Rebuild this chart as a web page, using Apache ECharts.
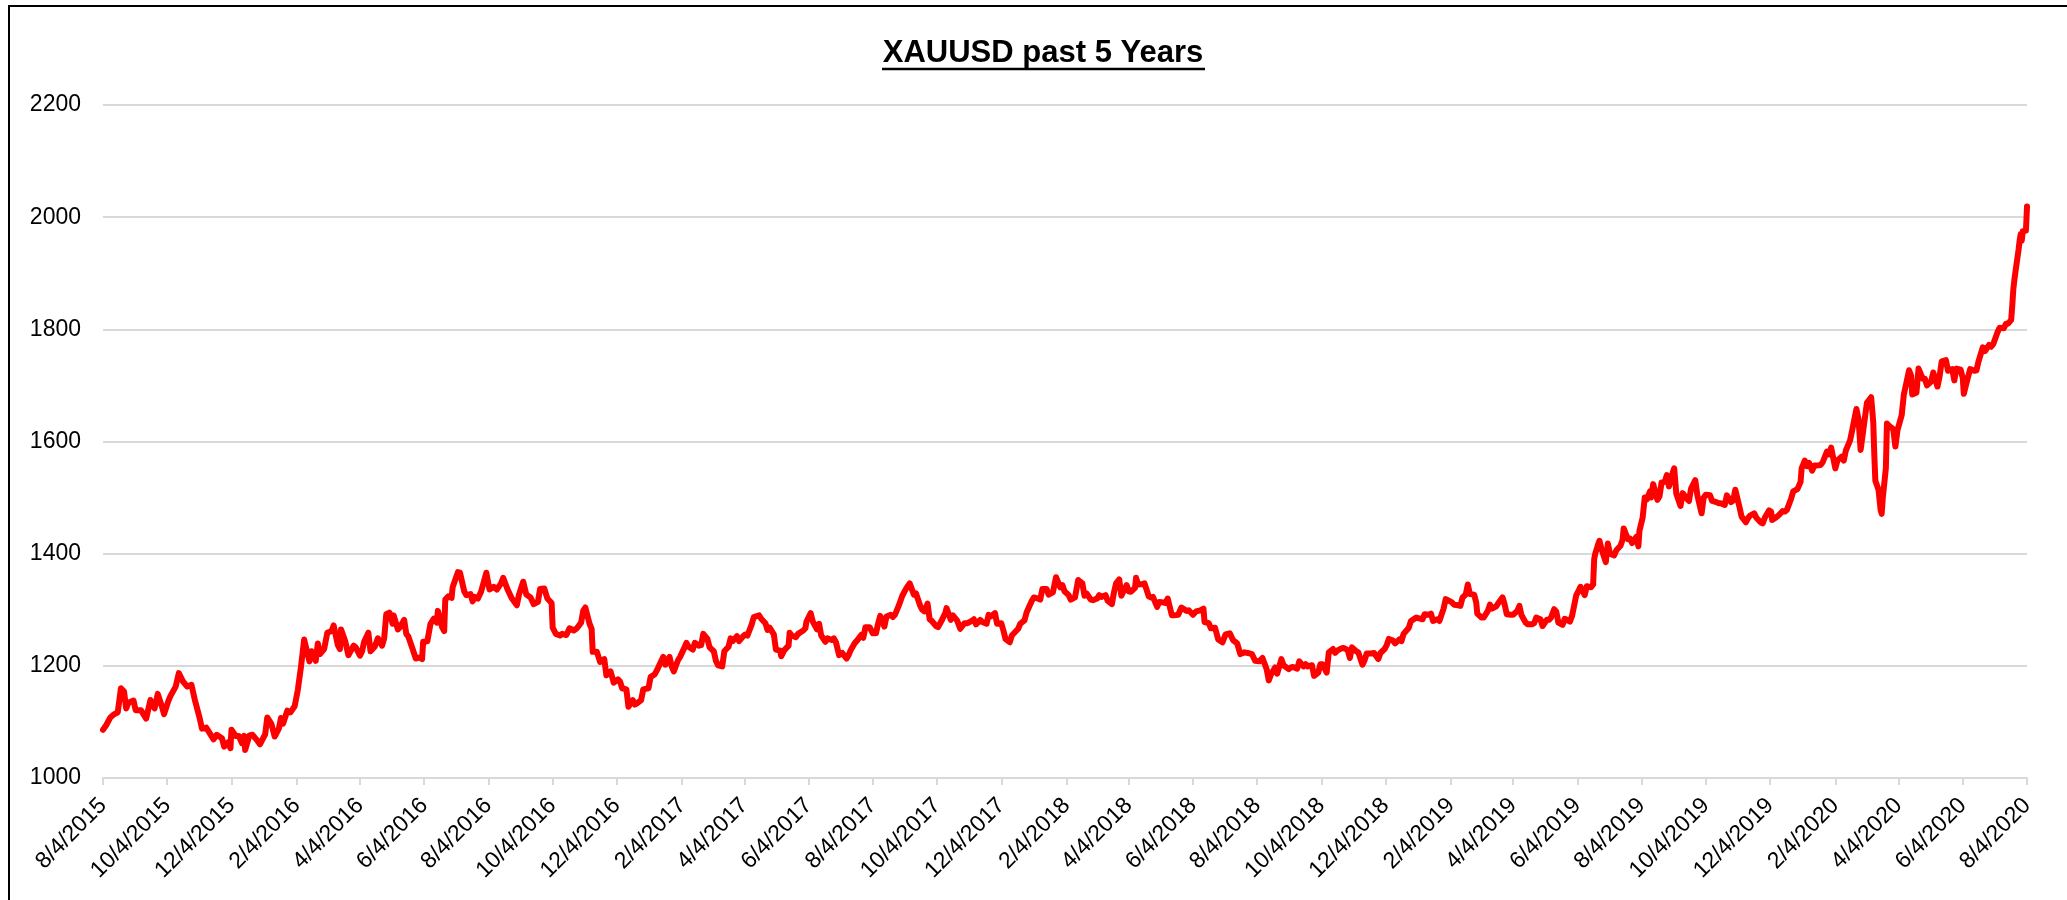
<!DOCTYPE html>
<html>
<head>
<meta charset="utf-8">
<script src="https://cdn.jsdelivr.net/npm/echarts@6/dist/echarts.min.js"></script>
<style>
html,body{margin:0;padding:0;background:#fff;}
#chart{width:2067px;height:900px;}
</style>
</head>
<body>
<div id="chart"></div>
<script>
// ---- data ----
const titleText = 'XAUUSD past 5 Years';
const xMin = '2015-08-04';
const xMax = '2020-08-04';
const yTicks = [1000, 1200, 1400, 1600, 1800, 2000, 2200];
const tickDates = ['2015-08-04','2015-10-04','2015-12-04','2016-02-04','2016-04-04','2016-06-04','2016-08-04','2016-10-04','2016-12-04',
  '2017-02-04','2017-04-04','2017-06-04','2017-08-04','2017-10-04','2017-12-04','2018-02-04','2018-04-04','2018-06-04','2018-08-04',
  '2018-10-04','2018-12-04','2019-02-04','2019-04-04','2019-06-04','2019-08-04','2019-10-04','2019-12-04','2020-02-04','2020-04-04',
  '2020-06-04','2020-08-04'];
const dates = [
'2015-08-04','2015-08-07','2015-08-11','2015-08-14','2015-08-18','2015-08-21','2015-08-24','2015-08-26','2015-08-28','2015-09-02',
'2015-09-04','2015-09-09','2015-09-14','2015-09-18','2015-09-22','2015-09-25','2015-09-29','2015-10-01','2015-10-05','2015-10-07',
'2015-10-12','2015-10-15','2015-10-19','2015-10-23','2015-10-27','2015-10-30','2015-11-04','2015-11-06','2015-11-10','2015-11-13',
'2015-11-17','2015-11-20','2015-11-25','2015-11-27','2015-12-01','2015-12-03','2015-12-04','2015-12-08','2015-12-11','2015-12-14',
'2015-12-16','2015-12-17','2015-12-21','2015-12-24','2015-12-28','2015-12-31','2016-01-05','2016-01-07','2016-01-11','2016-01-14',
'2016-01-18','2016-01-20','2016-01-22','2016-01-26','2016-01-29','2016-02-02','2016-02-05','2016-02-08','2016-02-11','2016-02-12',
'2016-02-16','2016-02-18','2016-02-22','2016-02-24','2016-02-26','2016-03-01','2016-03-04','2016-03-08','2016-03-10','2016-03-14',
'2016-03-16','2016-03-17','2016-03-21','2016-03-24','2016-03-29','2016-03-31','2016-04-04','2016-04-06','2016-04-08','2016-04-12',
'2016-04-14','2016-04-18','2016-04-21','2016-04-25','2016-04-27','2016-04-29','2016-05-02','2016-05-05','2016-05-06','2016-05-10',
'2016-05-12','2016-05-16','2016-05-18','2016-05-20','2016-05-24','2016-05-27','2016-05-31','2016-06-02','2016-06-03','2016-06-07',
'2016-06-10','2016-06-13','2016-06-16','2016-06-17','2016-06-21','2016-06-23','2016-06-24','2016-06-27','2016-06-30','2016-07-01',
'2016-07-06','2016-07-08','2016-07-12','2016-07-14','2016-07-18','2016-07-20','2016-07-22','2016-07-25','2016-07-28','2016-08-02',
'2016-08-05','2016-08-09','2016-08-12','2016-08-16','2016-08-18','2016-08-22','2016-08-26','2016-08-31','2016-09-02','2016-09-06',
'2016-09-09','2016-09-13','2016-09-16','2016-09-20','2016-09-22','2016-09-26','2016-09-29','2016-10-03','2016-10-04','2016-10-07',
'2016-10-11','2016-10-13','2016-10-17','2016-10-20','2016-10-24','2016-10-27','2016-10-31','2016-11-02','2016-11-04','2016-11-08',
'2016-11-10','2016-11-11','2016-11-15','2016-11-18','2016-11-22','2016-11-24','2016-11-28','2016-12-01','2016-12-05','2016-12-07',
'2016-12-09','2016-12-13','2016-12-15','2016-12-19','2016-12-21','2016-12-23','2016-12-27','2016-12-29','2017-01-03','2017-01-05',
'2017-01-09','2017-01-12','2017-01-17','2017-01-19','2017-01-23','2017-01-25','2017-01-27','2017-01-31','2017-02-02','2017-02-06',
'2017-02-08','2017-02-10','2017-02-14','2017-02-16','2017-02-20','2017-02-22','2017-02-24','2017-02-28','2017-03-02','2017-03-06',
'2017-03-08','2017-03-10','2017-03-14','2017-03-16','2017-03-20','2017-03-22','2017-03-24','2017-03-28','2017-03-30','2017-04-03',
'2017-04-05','2017-04-07','2017-04-11','2017-04-13','2017-04-18','2017-04-20','2017-04-24','2017-04-26','2017-04-28','2017-05-02',
'2017-05-04','2017-05-08','2017-05-09','2017-05-12','2017-05-16','2017-05-17','2017-05-19','2017-05-23','2017-05-25','2017-05-30',
'2017-06-01','2017-06-02','2017-06-06','2017-06-08','2017-06-12','2017-06-14','2017-06-16','2017-06-20','2017-06-22','2017-06-26',
'2017-06-28','2017-06-30','2017-07-03','2017-07-06','2017-07-10','2017-07-12','2017-07-14','2017-07-18','2017-07-20','2017-07-24',
'2017-07-26','2017-07-28','2017-08-01','2017-08-04','2017-08-07','2017-08-09','2017-08-11','2017-08-15','2017-08-17','2017-08-21',
'2017-08-23','2017-08-25','2017-08-29','2017-09-01','2017-09-05','2017-09-08','2017-09-12','2017-09-14','2017-09-18','2017-09-20',
'2017-09-22','2017-09-25','2017-09-27','2017-09-29','2017-10-03','2017-10-05','2017-10-09','2017-10-12','2017-10-13','2017-10-17',
'2017-10-19','2017-10-23','2017-10-26','2017-10-30','2017-11-02','2017-11-06','2017-11-08','2017-11-10','2017-11-14','2017-11-16',
'2017-11-20','2017-11-22','2017-11-24','2017-11-28','2017-11-30','2017-12-04','2017-12-06','2017-12-08','2017-12-12','2017-12-14',
'2017-12-18','2017-12-20','2017-12-22','2017-12-26','2017-12-28','2018-01-02','2018-01-04','2018-01-08','2018-01-10','2018-01-12',
'2018-01-16','2018-01-18','2018-01-22','2018-01-25','2018-01-29','2018-01-31','2018-02-02','2018-02-06','2018-02-08','2018-02-12',
'2018-02-15','2018-02-19','2018-02-21','2018-02-23','2018-02-27','2018-03-01','2018-03-05','2018-03-07','2018-03-09','2018-03-13',
'2018-03-15','2018-03-19','2018-03-21','2018-03-23','2018-03-26','2018-03-28','2018-04-02','2018-04-04','2018-04-06','2018-04-10',
'2018-04-11','2018-04-13','2018-04-17','2018-04-19','2018-04-23','2018-04-25','2018-04-27','2018-05-01','2018-05-03','2018-05-07',
'2018-05-09','2018-05-11','2018-05-15','2018-05-17','2018-05-21','2018-05-24','2018-05-29','2018-05-31','2018-06-04','2018-06-07',
'2018-06-11','2018-06-14','2018-06-15','2018-06-19','2018-06-21','2018-06-25','2018-06-28','2018-07-02','2018-07-05','2018-07-09',
'2018-07-12','2018-07-16','2018-07-19','2018-07-23','2018-07-26','2018-07-30','2018-08-02','2018-08-06','2018-08-09','2018-08-13',
'2018-08-15','2018-08-17','2018-08-21','2018-08-23','2018-08-27','2018-08-29','2018-09-03','2018-09-05','2018-09-07','2018-09-11',
'2018-09-13','2018-09-17','2018-09-19','2018-09-21','2018-09-25','2018-09-27','2018-10-01','2018-10-03','2018-10-05','2018-10-09',
'2018-10-11','2018-10-15','2018-10-17','2018-10-19','2018-10-23','2018-10-25','2018-10-29','2018-10-31','2018-11-02','2018-11-06',
'2018-11-08','2018-11-12','2018-11-14','2018-11-16','2018-11-20','2018-11-23','2018-11-27','2018-11-29','2018-12-03','2018-12-05',
'2018-12-07','2018-12-11','2018-12-13','2018-12-17','2018-12-19','2018-12-21','2018-12-26','2018-12-28','2019-01-02','2019-01-04',
'2019-01-08','2019-01-10','2019-01-14','2019-01-16','2019-01-18','2019-01-22','2019-01-24','2019-01-28','2019-01-30','2019-02-01',
'2019-02-05','2019-02-07','2019-02-11','2019-02-13','2019-02-15','2019-02-18','2019-02-20','2019-02-22','2019-02-26','2019-02-28',
'2019-03-01','2019-03-05','2019-03-07','2019-03-11','2019-03-13','2019-03-15','2019-03-19','2019-03-21','2019-03-25','2019-03-27',
'2019-03-29','2019-04-02','2019-04-04','2019-04-08','2019-04-10','2019-04-12','2019-04-16','2019-04-18','2019-04-22','2019-04-24',
'2019-04-26','2019-04-30','2019-05-02','2019-05-06','2019-05-08','2019-05-10','2019-05-13','2019-05-15','2019-05-17','2019-05-21',
'2019-05-23','2019-05-28','2019-05-30','2019-06-03','2019-06-05','2019-06-07','2019-06-11','2019-06-13','2019-06-17','2019-06-19',
'2019-06-20','2019-06-21','2019-06-24','2019-06-25','2019-06-27','2019-07-01','2019-07-03','2019-07-05','2019-07-09','2019-07-11',
'2019-07-15','2019-07-17','2019-07-18','2019-07-22','2019-07-24','2019-07-26','2019-07-30','2019-08-01','2019-08-02','2019-08-05',
'2019-08-07','2019-08-09','2019-08-12','2019-08-13','2019-08-15','2019-08-19','2019-08-21','2019-08-23','2019-08-26','2019-08-28',
'2019-08-30','2019-09-03','2019-09-04','2019-09-06','2019-09-10','2019-09-12','2019-09-16','2019-09-18','2019-09-20','2019-09-24',
'2019-09-26','2019-09-30','2019-10-02','2019-10-04','2019-10-08','2019-10-10','2019-10-14','2019-10-16','2019-10-18','2019-10-22',
'2019-10-24','2019-10-28','2019-10-30','2019-11-01','2019-11-05','2019-11-07','2019-11-11','2019-11-13','2019-11-15','2019-11-19',
'2019-11-21','2019-11-25','2019-11-27','2019-11-29','2019-12-03','2019-12-05','2019-12-06','2019-12-10','2019-12-12','2019-12-16',
'2019-12-18','2019-12-20','2019-12-24','2019-12-26','2019-12-30','2020-01-02','2020-01-03','2020-01-06','2020-01-08','2020-01-10',
'2020-01-13','2020-01-15','2020-01-17','2020-01-21','2020-01-23','2020-01-27','2020-01-29','2020-01-31','2020-02-04','2020-02-06',
'2020-02-10','2020-02-12','2020-02-14','2020-02-18','2020-02-20','2020-02-24','2020-02-26','2020-02-28','2020-03-03','2020-03-05',
'2020-03-09','2020-03-11','2020-03-12','2020-03-13','2020-03-16','2020-03-18','2020-03-19','2020-03-20','2020-03-23','2020-03-24',
'2020-03-26','2020-03-30','2020-04-01','2020-04-03','2020-04-07','2020-04-09','2020-04-14','2020-04-16','2020-04-17','2020-04-21',
'2020-04-23','2020-04-27','2020-04-29','2020-05-01','2020-05-05','2020-05-07','2020-05-11','2020-05-13','2020-05-15','2020-05-19',
'2020-05-21','2020-05-25','2020-05-27','2020-05-29','2020-06-02','2020-06-04','2020-06-05','2020-06-09','2020-06-11','2020-06-15',
'2020-06-17','2020-06-19','2020-06-23','2020-06-25','2020-06-29','2020-07-01','2020-07-03','2020-07-07','2020-07-09','2020-07-13',
'2020-07-15','2020-07-17','2020-07-20','2020-07-21','2020-07-22','2020-07-23','2020-07-24','2020-07-27','2020-07-28','2020-07-29',
'2020-07-30','2020-07-31','2020-08-03','2020-08-04'
];
const prices = [
1086,1094,1108,1113,1117,1160,1154,1124,1134,1138,
1121,1121,1106,1139,1124,1150,1127,1114,1137,1146,
1163,1187,1172,1163,1166,1141,1105,1088,1090,1081,
1069,1077,1071,1056,1064,1053,1086,1075,1075,1062,
1075,1050,1076,1077,1068,1060,1078,1108,1096,1074,
1088,1107,1097,1120,1117,1128,1157,1198,1247,1239,
1208,1226,1209,1240,1221,1230,1259,1262,1272,1237,
1230,1265,1244,1219,1236,1233,1218,1226,1243,1259,
1226,1234,1249,1236,1249,1292,1295,1275,1290,1265,
1269,1282,1257,1252,1230,1213,1215,1212,1243,1244,
1275,1284,1277,1298,1269,1262,1318,1324,1321,1340,
1367,1366,1333,1326,1328,1315,1323,1320,1332,1366,
1336,1341,1336,1347,1357,1337,1321,1308,1327,1350,
1327,1322,1310,1314,1337,1338,1320,1312,1268,1257,
1254,1257,1255,1267,1263,1267,1277,1298,1304,1275,
1266,1225,1225,1207,1212,1183,1190,1170,1176,1172,
1160,1158,1127,1139,1131,1133,1139,1158,1160,1180,
1185,1196,1216,1202,1216,1199,1190,1210,1216,1232,
1241,1234,1229,1241,1236,1237,1257,1248,1233,1226,
1209,1201,1199,1226,1234,1249,1244,1253,1244,1253,
1256,1254,1274,1287,1290,1284,1276,1264,1268,1256,
1229,1227,1217,1228,1236,1259,1254,1251,1257,1263,
1267,1279,1294,1279,1265,1275,1254,1243,1249,1246,
1249,1242,1219,1223,1213,1219,1228,1241,1245,1255,
1250,1269,1269,1258,1258,1275,1289,1270,1288,1291,
1287,1291,1309,1325,1339,1347,1327,1329,1307,1300,
1297,1311,1283,1280,1271,1269,1283,1295,1303,1282,
1290,1281,1266,1276,1276,1280,1283,1274,1282,1278,
1275,1291,1288,1294,1275,1276,1263,1248,1242,1254,
1262,1266,1275,1281,1295,1316,1322,1320,1318,1337,
1337,1327,1331,1358,1340,1344,1333,1326,1318,1322,
1353,1347,1325,1329,1318,1317,1320,1326,1323,1326,
1316,1310,1331,1347,1354,1325,1344,1333,1332,1339,
1357,1345,1346,1347,1324,1322,1323,1305,1314,1313,
1312,1320,1290,1290,1291,1304,1298,1299,1291,1297,
1299,1302,1278,1276,1267,1268,1247,1242,1256,1258,
1246,1240,1221,1224,1223,1221,1209,1208,1214,1194,
1174,1184,1197,1186,1212,1201,1194,1197,1198,1195,
1208,1199,1203,1199,1201,1182,1188,1203,1203,1188,
1224,1230,1223,1227,1231,1232,1228,1214,1233,1226,
1224,1202,1210,1222,1222,1223,1212,1223,1230,1237,
1248,1245,1240,1247,1244,1257,1268,1280,1286,1285,
1283,1292,1291,1293,1280,1283,1280,1302,1319,1317,
1313,1309,1308,1307,1322,1327,1345,1328,1327,1313,
1293,1286,1286,1298,1309,1302,1306,1312,1322,1309,
1292,1291,1291,1298,1307,1290,1277,1274,1274,1276,
1286,1283,1271,1282,1282,1286,1301,1297,1277,1273,
1284,1279,1289,1326,1333,1341,1326,1342,1340,1345,
1390,1400,1418,1423,1408,1385,1418,1400,1397,1406,
1414,1425,1445,1426,1427,1419,1430,1413,1441,1464,
1500,1497,1511,1500,1524,1496,1502,1527,1528,1540,
1520,1547,1552,1507,1485,1508,1498,1494,1516,1531,
1504,1472,1500,1505,1504,1494,1492,1490,1490,1487,
1504,1492,1495,1514,1483,1466,1456,1463,1468,1472,
1464,1456,1454,1464,1477,1475,1460,1465,1468,1476,
1475,1478,1498,1511,1515,1528,1552,1566,1556,1562,
1548,1557,1557,1558,1563,1582,1577,1589,1552,1566,
1573,1566,1584,1602,1620,1658,1640,1585,1641,1669,
1679,1635,1576,1530,1514,1478,1471,1498,1553,1632,
1628,1622,1591,1620,1647,1683,1727,1717,1684,1687,
1730,1712,1712,1700,1707,1723,1698,1716,1743,1745,
1726,1729,1709,1730,1728,1713,1685,1715,1729,1726,
1727,1743,1768,1761,1772,1769,1774,1795,1803,1802,
1810,1810,1817,1842,1871,1888,1902,1942,1958,1970,
1958,1975,1976,2019
];

// ---- build ----
function ts(s) { const p = s.split('-').map(Number); return new Date(p[0], p[1] - 1, p[2]).getTime(); }
function fmt(v) { const d = new Date(v); return (d.getMonth() + 1) + '/' + d.getDate() + '/' + d.getFullYear(); }
const seriesData = dates.map((d, i) => [ts(d), prices[i]]);
const tickValues = tickDates.map(ts);

const chart = echarts.init(document.getElementById('chart'), null, { renderer: 'canvas' });
const FONT = 'Liberation Sans';
chart.setOption({
  backgroundColor: '#ffffff',
  animation: false,
  grid: { left: 103, right: 40, top: 105, bottom: 122 },
  graphic: [
    { type: 'rect', silent: true, shape: { x: 9, y: 6, width: 2120, height: 1000 },
      style: { fill: 'none', stroke: '#000', lineWidth: 2 } },
    { type: 'text', silent: true, x: 1043, y: 53,
      style: { text: titleText, font: 'bold 31px "' + FONT + '"', fill: '#000', align: 'center', verticalAlign: 'middle' } },
    { type: 'line', silent: true, shape: { x1: 882, y1: 69, x2: 1205, y2: 69 },
      style: { stroke: '#000', lineWidth: 2.5 } }
  ],
  xAxis: {
    type: 'value',
    min: ts(xMin),
    max: ts(xMax),
    splitLine: { show: false },
    axisLine: { show: true, lineStyle: { color: '#d9d9d9', width: 2 } },
    axisTick: { show: true, customValues: tickValues, length: 7, lineStyle: { color: '#d9d9d9', width: 2 } },
    axisLabel: {
      customValues: tickValues,
      rotate: 45, margin: 24,
      formatter: (v) => fmt(v),
      fontFamily: FONT, fontSize: 23, color: '#000'
    }
  },
  yAxis: {
    type: 'value',
    min: yTicks[0], max: yTicks[yTicks.length - 1], interval: 200,
    axisLine: { show: false },
    axisTick: { show: false },
    splitLine: { show: true, lineStyle: { color: '#d9d9d9', width: 2 } },
    axisLabel: { fontFamily: FONT, fontSize: 23, color: '#000', margin: 22, formatter: (v) => String(v) }
  },
  series: [{
    type: 'line',
    data: seriesData,
    showSymbol: false,
    symbol: 'none',
    lineStyle: { color: '#ff0000', width: 6, join: 'round', cap: 'round' },
    z: 5
  }]
});
</script>
</body>
</html>
